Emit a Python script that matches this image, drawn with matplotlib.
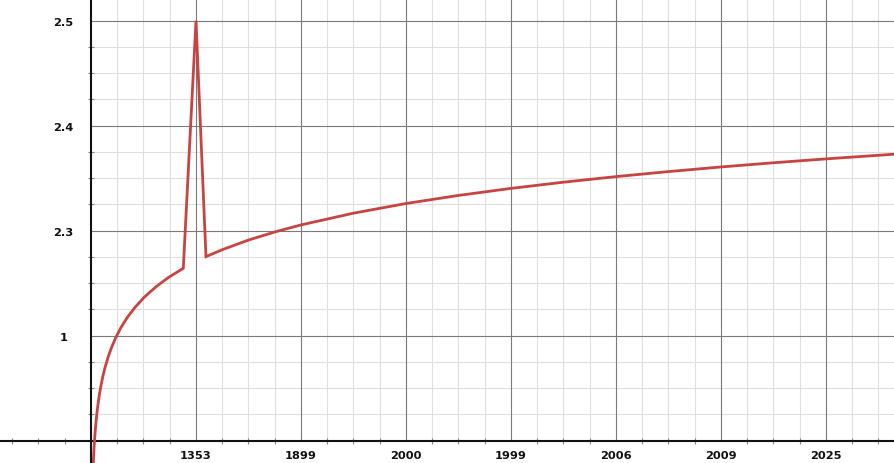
import numpy as np
import matplotlib
matplotlib.use("Agg")
import matplotlib.pyplot as plt
from matplotlib.ticker import MultipleLocator, FixedLocator

# ---- data ----
curve_x = [0.018, 0.0225, 0.026, 0.030, 0.035, 0.041, 0.048, 0.057, 0.067, 0.080,
           0.095, 0.113, 0.135, 0.162, 0.195, 0.235, 0.285, 0.345, 0.420, 0.510,
           0.620, 0.740, 0.879, 1.000, 1.095, 1.250, 1.500, 1.750, 2.000, 2.500,
           3.000, 3.500, 4.000, 4.500, 5.000, 5.500, 6.000, 6.500, 7.000, 7.700]
curve_y = [-0.300, -0.198, -0.125, -0.054, 0.024, 0.104, 0.182, 0.269, 0.350, 0.439,
           0.525, 0.613, 0.702, 0.793, 0.886, 0.980, 1.077, 1.173, 1.271, 1.369,
           1.467, 1.556, 1.642, 4.000, 1.753, 1.819, 1.911, 1.988, 2.055, 2.167,
           2.259, 2.336, 2.403, 2.462, 2.515, 2.563, 2.607, 2.647, 2.684, 2.732]

x_tick_pos = [1, 2, 3, 4, 5, 6, 7]
x_tick_labels = ["1353", "1899", "2000", "1999", "2006", "2009", "2025"]
y_tick_pos = [1, 2, 3, 4]
y_tick_labels = ["1", "2.3", "2.4", "2.5"]

# ---- figure ----
W, H = 895, 464
fig = plt.figure(figsize=(W / 100, H / 100), dpi=100)
ax = fig.add_axes([0, 0, 1, 1])

unit = 105.0
x0_px, y0_px = 91.0, 441.7
xmin, xmax = -x0_px / unit, (W - x0_px) / unit
ymin, ymax = -(H - y0_px) / unit, y0_px / unit
ax.set_xlim(xmin, xmax)
ax.set_ylim(ymin, ymax)

# grid only in the first quadrant
minor_step = 0.25
gx = np.arange(minor_step, xmax, minor_step)
gy = np.arange(minor_step, ymax, minor_step)
gx_minor = [v for v in gx if abs(v - round(v)) > 1e-6]
gy_minor = [v for v in gy if abs(v - round(v)) > 1e-6]
gx_major = [v for v in gx if abs(v - round(v)) <= 1e-6]
gy_major = [v for v in gy if abs(v - round(v)) <= 1e-6]
ax.vlines(gx_minor, 0, ymax, color="#dfdfdf", lw=0.8, zorder=0)
ax.hlines(gy_minor, 0, xmax, color="#dfdfdf", lw=0.8, zorder=0)
ax.vlines(gx_major, 0, ymax, color="#7a7a7a", lw=0.8, zorder=0.5)
ax.hlines(gy_major, 0, xmax, color="#7a7a7a", lw=0.8, zorder=0.5)

# curve
ax.plot(curve_x, curve_y, color="#c74440", lw=2.0, solid_joinstyle="miter",
        zorder=3, clip_on=True)

# axes lines
for s in ["top", "right"]:
    ax.spines[s].set_visible(False)
ax.spines["left"].set_position(("data", 0))
ax.spines["bottom"].set_position(("data", 0))
for s in ["left", "bottom"]:
    ax.spines[s].set_linewidth(1.5)
    ax.spines[s].set_color("#111111")
    ax.spines[s].set_zorder(2)

ax.xaxis.set_major_locator(FixedLocator(x_tick_pos))
ax.yaxis.set_major_locator(FixedLocator(y_tick_pos))
ax.set_xticklabels(x_tick_labels)
ax.set_yticklabels(y_tick_labels)
ax.xaxis.set_minor_locator(MultipleLocator(0.25))
ax.yaxis.set_minor_locator(MultipleLocator(0.25))

ax.tick_params(which="major", length=0)
ax.tick_params(which="minor", direction="inout", length=4, width=0.8, color="#888888")
ax.tick_params(axis="x", which="major", pad=6.5)
ax.tick_params(axis="y", which="major", pad=20)

for lbl in ax.get_xticklabels() + ax.get_yticklabels():
    lbl.set_fontfamily("DejaVu Sans")
    lbl.set_fontweight("bold")
    lbl.set_fontsize(8.2)
    lbl.set_color("#111111")
for lbl in ax.get_yticklabels():
    lbl.set_horizontalalignment("center")

fig.savefig("out.png", dpi=100)
